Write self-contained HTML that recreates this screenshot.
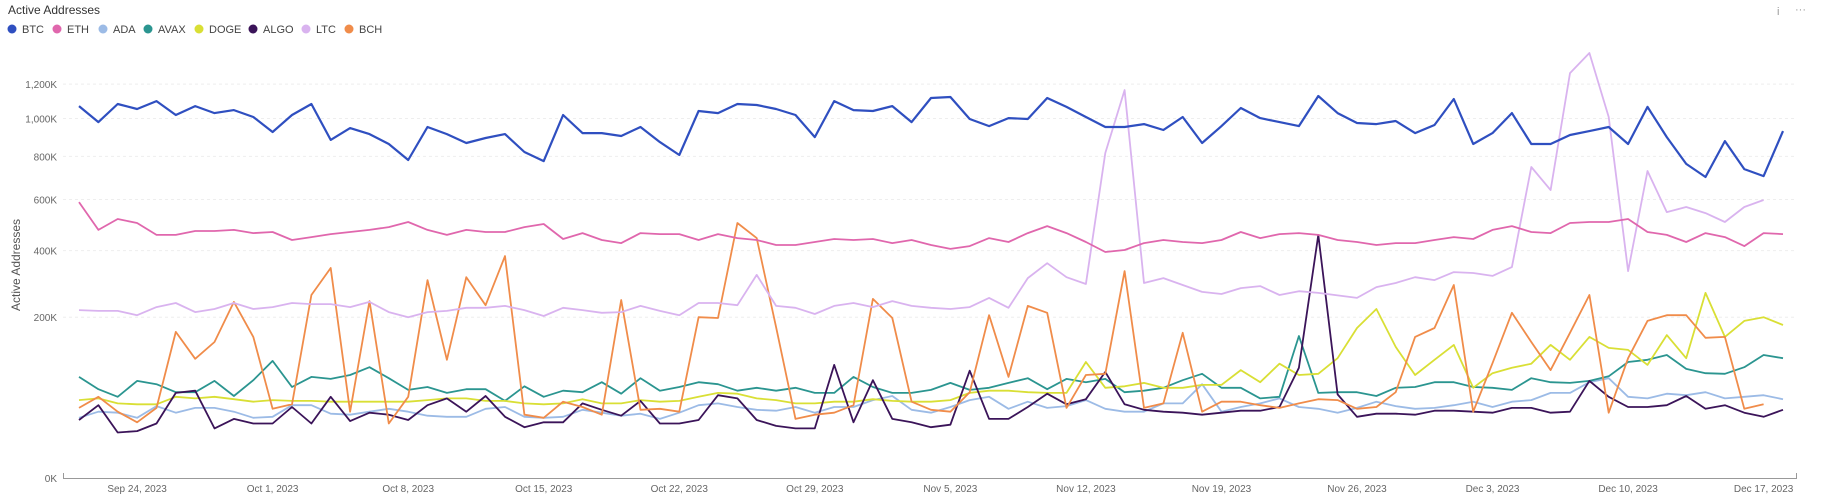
<!DOCTYPE html>
<html><head><meta charset="utf-8"><style>
html,body{margin:0;padding:0;background:#fff;width:1823px;height:500px;overflow:hidden;font-family:"Liberation Sans",sans-serif}
svg{display:block}
</style></head><body>
<svg id="chart" width="1823" height="500">
<text x="8" y="14" font-size="12" fill="#333">Active Addresses</text>
<text x="1777" y="15" font-size="11" fill="#999">i</text>
<text x="1795" y="13" font-size="11" fill="#999">···</text>
<g id="legend"></g>
<g id="grid"></g>
<g id="yticks"></g>
<g id="xticks"></g>
<text transform="translate(20,265) rotate(-90)" text-anchor="middle" font-size="12" fill="#555">Active Addresses</text>
<g id="series"></g>
</svg>
<script>
const yTicks=[0,200,400,600,800,1000,1200];
const xTickLabels=["Sep 24, 2023","Oct 1, 2023","Oct 8, 2023","Oct 15, 2023","Oct 22, 2023","Oct 29, 2023","Nov 5, 2023","Nov 12, 2023","Nov 19, 2023","Nov 26, 2023","Dec 3, 2023","Dec 10, 2023","Dec 17, 2023"];
const xTickIndex=[3,10,17,24,31,38,45,52,59,66,73,80,87];
const seriesNames=["BTC","ETH","ADA","AVAX","DOGE","ALGO","LTC","BCH"];
const seriesColors=["#2f4fc0","#e067ad","#9cbbe6","#2b9590","#d9df35","#3b1459","#d9b3ef","#f08c4a"];
const btc=[1070,980,1082,1053,1099,1019,1070,1030,1047,1008,926,1019,1082,884,947,915,863,782,953,915,868,894,915,822,777,1019,920,920,905,953,873,807,1042,1030,1082,1076,1053,1019,899,1099,1047,1042,1070,980,1117,1123,997,958,1002,997,1117,1065,1008,953,953,969,937,1008,868,958,1059,1002,980,958,1129,1030,975,969,986,920,964,1111,863,920,1030,863,863,910,931,953,863,1065,899,763,701,878,738,705,931];
const eth=[589,476,519,503,457,457,472,472,476,464,468,438,449,460,468,476,487,507,476,457,476,468,468,487,499,442,464,438,427,464,460,460,438,460,445,438,420,420,431,442,438,442,427,438,420,406,416,445,431,464,491,464,431,395,402,427,438,431,427,438,468,445,460,464,457,438,431,420,427,427,438,449,442,476,491,468,464,503,507,507,519,468,457,431,464,449,416,464,460];
const ada=[28,34,33,28,40,33,38,38,34,28,29,41,41,32,31,34,37,34,30,29,29,37,39,29,28,29,36,33,30,32,27,33,41,43,39,36,35,39,33,39,39,47,52,36,33,39,47,51,37,45,38,40,47,37,34,34,43,43,68,34,39,43,49,39,37,33,38,45,40,37,38,41,45,39,45,47,56,56,71,77,51,49,55,53,57,49,51,53,48];
const avax=[79,61,51,73,68,57,57,73,52,74,106,64,79,76,82,95,77,60,64,56,61,61,46,65,51,59,57,71,55,77,59,64,71,68,59,63,59,63,56,56,79,64,56,56,60,70,60,63,70,77,61,76,71,76,57,59,63,74,84,63,63,49,51,156,56,57,57,52,63,64,71,71,64,63,60,77,71,70,73,80,104,108,117,92,85,84,95,117,111];
const doge=[47,49,43,42,42,51,49,51,48,45,47,46,46,45,45,45,45,45,47,49,49,46,46,43,42,43,48,43,43,47,45,46,51,56,55,49,47,43,43,45,45,48,46,45,45,47,56,59,59,57,56,56,104,63,65,70,63,63,67,67,90,71,101,82,84,111,174,221,133,82,108,137,63,85,94,101,137,108,154,131,127,99,158,111,265,154,191,200,181];
const algo=[26,41,16,17,23,56,59,19,27,23,23,39,23,51,25,33,31,26,41,49,34,52,29,20,24,24,43,36,30,46,23,23,26,53,49,26,21,19,19,99,24,74,27,24,20,22,89,27,27,39,55,42,48,87,42,36,34,33,31,33,35,35,39,94,457,54,29,32,32,31,35,35,34,33,38,38,33,34,73,51,39,39,41,52,37,41,33,29,36];
const ltc=[218,216,216,205,226,237,213,221,237,221,226,237,234,234,226,240,213,200,213,216,224,224,229,218,203,224,218,211,213,229,216,205,237,237,231,319,229,224,208,229,237,226,242,229,224,221,226,251,224,309,357,312,291,817,1164,294,309,288,268,262,279,285,259,270,265,258,251,282,294,312,303,328,325,316,344,748,641,1268,1397,1008,331,729,547,568,543,507,568,598,null];
const bch=[38,51,34,24,38,165,110,143,240,154,37,42,259,341,34,242,23,51,303,108,312,231,381,31,28,45,39,31,245,36,37,34,200,198,503,445,176,27,31,33,41,248,198,45,36,34,57,205,79,229,211,38,82,84,331,38,43,163,34,45,45,41,38,43,48,47,37,39,57,154,174,288,34,102,211,143,90,163,259,33,111,191,205,205,152,154,37,42,null];
const allSeries=[btc,eth,ada,avax,doge,algo,ltc,bch];
const NS="http://www.w3.org/2000/svg";
const X0=79,X1=1783,N=btc.length;
function xScale(i){return X0+i*(X1-X0)/(N-1);}
function yScale(v){return 478-11.37*Math.sqrt(v);}
function mk(tag,attrs,parent){const e=document.createElementNS(NS,tag);for(const k in attrs)e.setAttribute(k,attrs[k]);parent.appendChild(e);return e;}
const legend=document.getElementById('legend');
const legX=[12,57,103,148,199,253,306,349];
seriesNames.forEach((n,k)=>{
  const g=mk('g',{},legend);
  
  
  mk('circle',{cx:legX[k],cy:29,r:4.5,fill:seriesColors[k]},g);
  const t=mk('text',{x:legX[k]+10,y:33,'font-size':11,fill:'#444'},g);t.textContent=n;
});
const grid=document.getElementById('grid'),yt=document.getElementById('yticks');
yTicks.forEach(v=>{
  const y=yScale(v);
  if(v>0){const l=mk('line',{x1:63,x2:1797,y1:y,y2:y,stroke:'#eee','stroke-dasharray':'3,3'},grid);
  
  }
  const t=mk('text',{x:57,y:y+4,'text-anchor':'end','font-size':10,fill:'#666'},yt);
  
  
  t.textContent=(v===0?'0K':v.toLocaleString('en-US')+'K');
});
const xt=document.getElementById('xticks');
mk('line',{x1:63,x2:1797,y1:478.5,y2:478.5,stroke:'#999'},xt);
mk('line',{x1:63.5,x2:63.5,y1:473,y2:479,stroke:'#999'},xt);
mk('line',{x1:1796.5,x2:1796.5,y1:473,y2:479,stroke:'#999'},xt);
xTickLabels.forEach((s,k)=>{
  const t=mk('text',{x:xScale(xTickIndex[k]),y:492,'text-anchor':'middle','font-size':10,fill:'#666'},xt);
  
  
  t.textContent=s;
});
const sg=document.getElementById('series');
const order=[2,3,4,5,7,6,1,0];
order.forEach(k=>{
  const arr=allSeries[k];let d='';let pen=false;
  arr.forEach((v,i)=>{if(v==null){pen=false;return;}d+=(pen?'L':'M')+xScale(i).toFixed(1)+','+yScale(v).toFixed(1);pen=true;});
  const p=mk('path',{d:d,fill:'none',stroke:seriesColors[k],'stroke-width':k===0?2.2:1.8,'stroke-linejoin':'round'},sg);
  
  
});
</script>
</body></html>
